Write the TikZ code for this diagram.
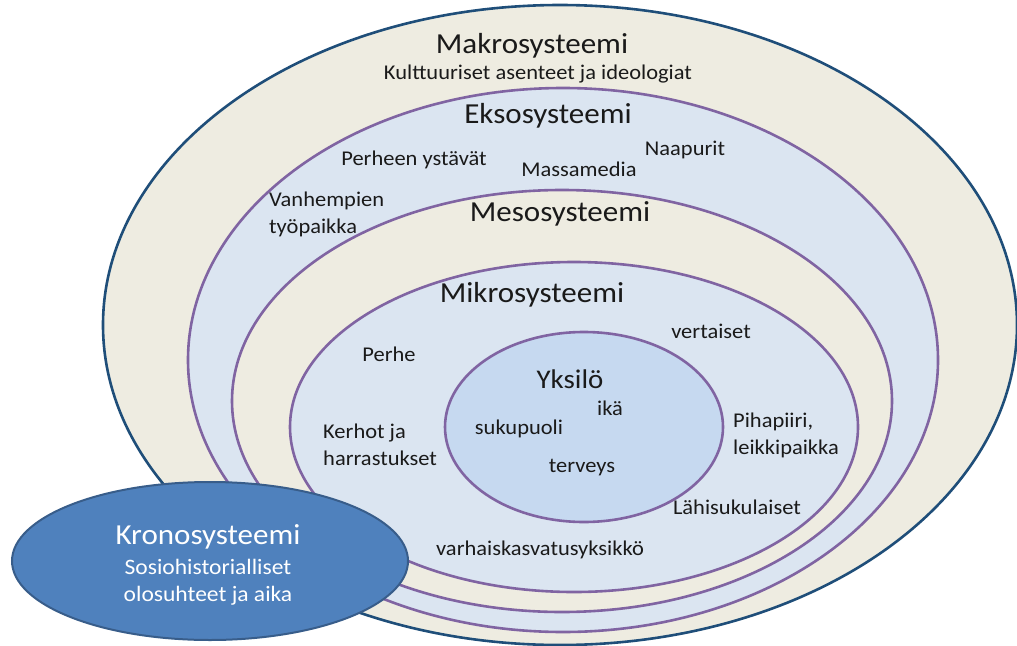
\documentclass[tikz,border=0pt]{standalone}
\usepackage{fontspec}
\setmainfont{Carlito}[FakeStretch=1.07]
\definecolor{tan}{HTML}{EEECE1}
\definecolor{lblue}{HTML}{DBE5F1}
\definecolor{cblue}{HTML}{C6D9F0}
\definecolor{purp}{HTML}{8064A2}
\definecolor{dblue}{HTML}{1F4E79}
\definecolor{kfill}{HTML}{4F81BD}
\definecolor{kline}{HTML}{385D8A}
\definecolor{txt}{HTML}{1A1A1A}
\tikzset{
  ring/.style={draw=purp, line width=2.6pt},
  lbl/.style={text=txt, font=\fontsize{21}{27}\selectfont, inner sep=0pt},
  ttl/.style={text=txt, font=\fontsize{29}{32}\selectfont, inner sep=0pt},
  multi/.style={lbl, align=left, anchor=north west},
}
\begin{document}
\begin{tikzpicture}[x=1pt,y=-1pt]
\useasboundingbox (0,0) rectangle (1017,645);
\clip (0,0) rectangle (1017,645);
% rings
\path[fill=tan, draw=dblue, line width=2.6pt] (560,325) ellipse [x radius=457, y radius=320];
\path[ring, fill=lblue] (563,360) ellipse [x radius=375, y radius=272];
\path[ring, fill=tan] (562,401) ellipse [x radius=330, y radius=211];
\path[ring, fill=lblue] (574,427) ellipse [x radius=284, y radius=165];
\path[ring, fill=cblue] (584,427) ellipse [x radius=139, y radius=95];
% labels
\node[ttl] (makro) at (532,46) {Makrosysteemi};
\node[lbl] (makrosub) at (538,74) {Kulttuuriset asenteet ja ideologiat};
\node[ttl] (ekso) at (548,116) {Eksosysteemi};
\node[lbl] (ystavat) at (414,160) {Perheen ystävät};
\node[lbl] (massa) at (579,169) {Massamedia};
\node[lbl] (naapurit) at (685,150) {Naapurit};
\node[multi] (vanh) at (269,192) {Vanhempien\\työpaikka};
\node[ttl] (meso) at (560,214) {Mesosysteemi};
\node[ttl] (mikro) at (532,295) {Mikrosysteemi};
\node[lbl] (vert) at (711,331) {vertaiset};
\node[lbl] (perhe) at (389,354) {Perhe};
\node[ttl, font=\fontsize{27}{30}\selectfont] (yksilo) at (570,379) {Yksilö};
\node[lbl] (ika) at (610,408) {ikä};
\node[lbl] (suku) at (519,429) {sukupuoli};
\node[lbl] (terv) at (582,468) {terveys};
\node[multi] (kerhot) at (323,424) {Kerhot ja\\harrastukset};
\node[multi] (piha) at (733,413) {Pihapiiri,\\leikkipaikka};
\node[lbl] (lahi) at (737,507) {Lähisukulaiset};
\node[lbl] (varh) at (540,550) {varhaiskasvatusyksikkö};
% Krono
\path[fill=kfill, draw=kline, line width=2pt] (210,561) ellipse [x radius=198, y radius=79];
\node[ttl, text=white] (krono) at (208,537) {Kronosysteemi};
\node[lbl, text=white, font=\fontsize{22}{27}\selectfont, align=center] (kronosub) at (208,582) {Sosiohistorialliset\\olosuhteet ja aika};
\end{tikzpicture}
\end{document}
